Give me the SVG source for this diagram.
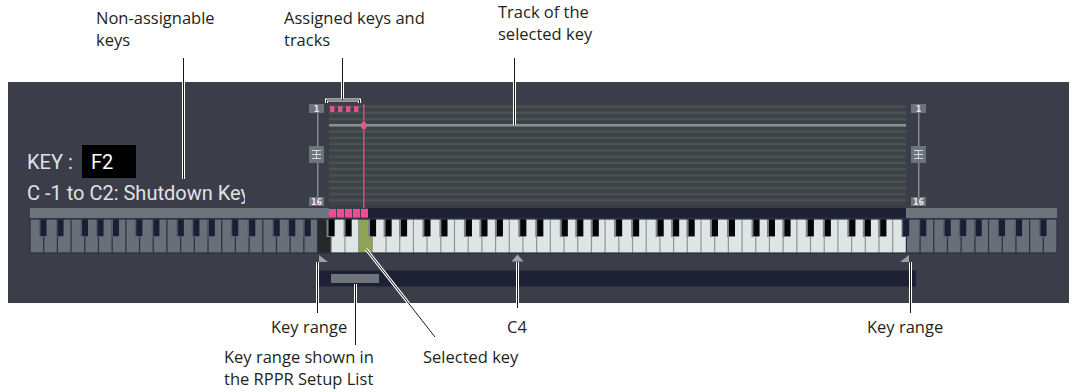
<svg xmlns="http://www.w3.org/2000/svg" width="1077" height="392" viewBox="0 0 1077 392">
<style>
.lbl{font-family:"Open Sans","Liberation Sans",sans-serif;font-size:16.5px;fill:#231f20}
.ui{font-family:Roboto,"Liberation Sans",sans-serif;font-size:20px;fill:#e0e2e5}
.tiny{font-family:"DejaVu Sans",sans-serif;font-size:8px;font-weight:bold;fill:#e8e8ea;text-anchor:middle}
.halo{stroke:#ffffff;stroke-width:3;fill:none}
.ld{stroke:#1a1a1a;stroke-width:1;fill:none}
.box{fill:#6e737c}
</style>
<defs>
<pattern id="rows" x="329" y="105" width="577" height="6.25" patternUnits="userSpaceOnUse">
<rect x="0" y="0" width="577" height="6.25" fill="#3c4247"/>
<rect x="0" y="0.5" width="577" height="2.2" fill="#4a5452"/>
</pattern>
<g id="kG"><rect x="0" y="219" width="7.5" height="18" fill="#555a68"/><rect x="1.5" y="219" width="6" height="17" fill="#1c1f33"/></g>
<g id="kW"><rect x="0" y="219" width="8" height="18" fill="#7d8288"/><rect x="2" y="219" width="6" height="17" fill="#060608"/></g>
<g id="oG"><use href="#kG" x="9"/><use href="#kG" x="26"/><use href="#kG" x="50.5"/><use href="#kG" x="66"/><use href="#kG" x="81.5"/></g>
<g id="oW"><use href="#kW" x="9"/><use href="#kW" x="26"/><use href="#kW" x="50.5"/><use href="#kW" x="66"/><use href="#kW" x="81.5"/></g>
<clipPath id="clipKey"><rect x="0" y="170" width="245" height="40"/></clipPath>
</defs>
<rect x="0" y="0" width="1077" height="392" fill="#ffffff"/>
<g id="panel">
<rect x="8" y="82" width="1061" height="221" fill="#3b3d49"/>
</g>
<g id="key-display">
<text class="ui" x="27" y="169">KEY :</text>
<rect x="82" y="145" width="54" height="33" fill="#000000"/>
<text class="ui" x="91" y="169" style="fill:#ffffff">F2</text>
<text class="ui" x="27" y="200" clip-path="url(#clipKey)">C -1 to C2: Shutdown Key</text>
</g>
<g id="track-grid">
<rect x="329" y="105" width="577" height="100" fill="url(#rows)"/>
<rect x="329" y="124" width="577" height="2.5" fill="#8c9299"/>
<rect x="330" y="106" width="4.5" height="6" rx="1" fill="#e8508a"/>
<rect x="338" y="106" width="4.5" height="6" rx="1" fill="#e8508a"/>
<rect x="346" y="106" width="4.5" height="6" rx="1" fill="#e8508a"/>
<rect x="354" y="106" width="4.5" height="6" rx="1" fill="#e8508a"/>
<rect x="363" y="104" width="1.5" height="104" fill="#e0457f"/>
<rect x="361.2" y="122" width="5" height="7" rx="1.5" fill="#f0508a"/>
</g>
<g id="scroll-left">
<rect x="317" y="112" width="1.5" height="86" fill="#858a93"/>
<rect class="box" x="309" y="104" width="15" height="9"/>
<text class="tiny" x="316.5" y="111.5">1</text>
<rect class="box" x="309" y="146" width="15" height="17"/>
<path d="M312 150.5H321M312 154.5H321M312 158.5H321M316.5 150.5V158.5" stroke="#d8dadd" stroke-width="1" fill="none"/>
<rect class="box" x="309" y="197" width="15" height="9"/>
<text class="tiny" x="316.5" y="204.5">16</text>
</g>
<g id="scroll-right">
<rect x="918" y="112" width="1.5" height="86" fill="#858a93"/>
<rect class="box" x="911" y="104" width="15" height="9"/>
<text class="tiny" x="918.5" y="111.5">1</text>
<rect class="box" x="911" y="146" width="15" height="17"/>
<path d="M914 150.5H923M914 154.5H923M914 158.5H923M918.5 150.5V158.5" stroke="#d8dadd" stroke-width="1" fill="none"/>
<rect class="box" x="911" y="197" width="15" height="9"/>
<text class="tiny" x="918.5" y="204.5">16</text>
</g>
<g id="keyboard">
<rect x="30" y="208" width="299" height="10" fill="#6d737b"/>
<rect x="329" y="209" width="7" height="8.5" fill="#e84f94"/>
<rect x="337" y="209" width="7" height="8.5" fill="#e84f94"/>
<rect x="345" y="209" width="7" height="8.5" fill="#e84f94"/>
<rect x="353" y="209" width="7" height="8.5" fill="#e84f94"/>
<rect x="361" y="209" width="7" height="8.5" fill="#e84f94"/>
<rect x="368" y="208" width="538" height="10" fill="#1e2134"/>
<rect x="906" y="208" width="151" height="10" fill="#6d737b"/>
<rect x="30" y="219" width="287.56" height="34" fill="#696e78"/>
<rect x="317.56" y="219" width="13.69" height="34" fill="#252829"/>
<rect x="331.25" y="219" width="575.12" height="34" fill="#dfe5e5"/>
<rect x="358.64" y="219" width="13.69" height="34" fill="#8ea452"/>
<rect x="906.37" y="219" width="150.63" height="34" fill="#696e78"/>
<path d="M43.69 219V253M57.39 219V253M71.08 219V253M84.77 219V253M98.47 219V253M112.16 219V253M125.85 219V253M139.55 219V253M153.24 219V253M166.93 219V253M180.63 219V253M194.32 219V253M208.01 219V253M221.71 219V253M235.4 219V253M249.09 219V253M262.79 219V253M276.48 219V253M290.17 219V253M303.87 219V253M317.56 219V253M906.37 219V253M920.07 219V253M933.76 219V253M947.45 219V253M961.15 219V253M974.84 219V253M988.53 219V253M1002.23 219V253M1015.92 219V253M1029.61 219V253M1043.31 219V253" stroke="#2c2f3d" stroke-width="1.2" fill="none"/>
<path d="M331.25 219V253M344.95 219V253M358.64 219V253M372.33 219V253M386.03 219V253M399.72 219V253M413.41 219V253M427.11 219V253M440.8 219V253M454.49 219V253M468.19 219V253M481.88 219V253M495.57 219V253M509.27 219V253M522.96 219V253M536.65 219V253M550.35 219V253M564.04 219V253M577.73 219V253M591.43 219V253M605.12 219V253M618.81 219V253M632.51 219V253M646.2 219V253M659.89 219V253M673.59 219V253M687.28 219V253M700.97 219V253M714.67 219V253M728.36 219V253M742.05 219V253M755.75 219V253M769.44 219V253M783.13 219V253M796.83 219V253M810.52 219V253M824.21 219V253M837.91 219V253M851.6 219V253M865.29 219V253M878.99 219V253M892.68 219V253" stroke="#8f959b" stroke-width="1.2" fill="none"/>
<use href="#oG" x="30"/>
<use href="#oG" x="125.853"/>
<use href="#oG" x="221.707"/>
<use href="#oW" x="317.56"/>
<use href="#oW" x="413.413"/>
<use href="#oW" x="509.267"/>
<use href="#oW" x="605.12"/>
<use href="#oW" x="700.973"/>
<use href="#oW" x="796.827"/>
<use href="#oG" x="892.68"/>
<use href="#kG" x="997.533"/>
<use href="#kG" x="1014.533"/>
<use href="#kG" x="1039.033"/>
<rect x="30" y="219" width="1027" height="34" fill="none" stroke="#2c2f3d" stroke-width="1.2"/>
</g>
<g id="markers">
<polygon points="319,255 319,262 328,262" fill="#9ca1a8"/>
<polygon points="517.5,254.5 523.5,261.5 511.5,261.5" fill="#a3a7ad"/>
<polygon points="909,255 909,262 900,262" fill="#9ca1a8"/>
</g>
<g id="rppr-bar">
<rect x="318" y="270.5" width="598" height="16" fill="#1e2134"/>
<rect x="331" y="274" width="48" height="9" fill="#6e747c"/>
</g>
<g id="connectors">
<path class="halo" d="M183.5 58V179"/>
<path class="ld" d="M183.5 58V179"/>
<path class="halo" d="M342.5 58V100M326.5 103V100H359.5V103"/>
<path class="ld" d="M342.5 58V100M326.5 103V100H359.5V103"/>
<path class="halo" d="M514.5 58V125"/>
<path class="ld" d="M514.5 58V125"/>
<path class="halo" d="M317.5 262V313"/>
<path class="ld" d="M317.5 262V313"/>
<path class="halo" d="M355.5 284V345"/>
<path class="ld" d="M355.5 284V345"/>
<path class="halo" d="M366 249L435 337"/>
<path class="ld" d="M366 249L435 337"/>
<path class="halo" d="M517.5 262V308"/>
<path class="ld" d="M517.5 262V308"/>
<path class="halo" d="M910.5 262V313"/>
<path class="ld" d="M910.5 262V313"/>
</g>
<g id="label-nonassignable"><text class="lbl" x="96" y="24">Non-assignable</text><text class="lbl" x="96" y="46">keys</text></g>
<g id="label-assigned"><text class="lbl" x="284" y="24">Assigned keys and</text><text class="lbl" x="284" y="46">tracks</text></g>
<g id="label-track"><text class="lbl" x="498" y="18">Track of the</text><text class="lbl" x="498" y="40">selected key</text></g>
<g id="label-keyrange-left"><text class="lbl" x="271" y="333">Key range</text></g>
<g id="label-c4"><text class="lbl" x="507" y="333">C4</text></g>
<g id="label-keyrange-right"><text class="lbl" x="867" y="333">Key range</text></g>
<g id="label-rppr"><text class="lbl" x="224" y="363">Key range shown in</text><text class="lbl" x="224" y="385">the RPPR Setup List</text></g>
<g id="label-selected"><text class="lbl" x="423" y="363">Selected key</text></g>
</svg>
